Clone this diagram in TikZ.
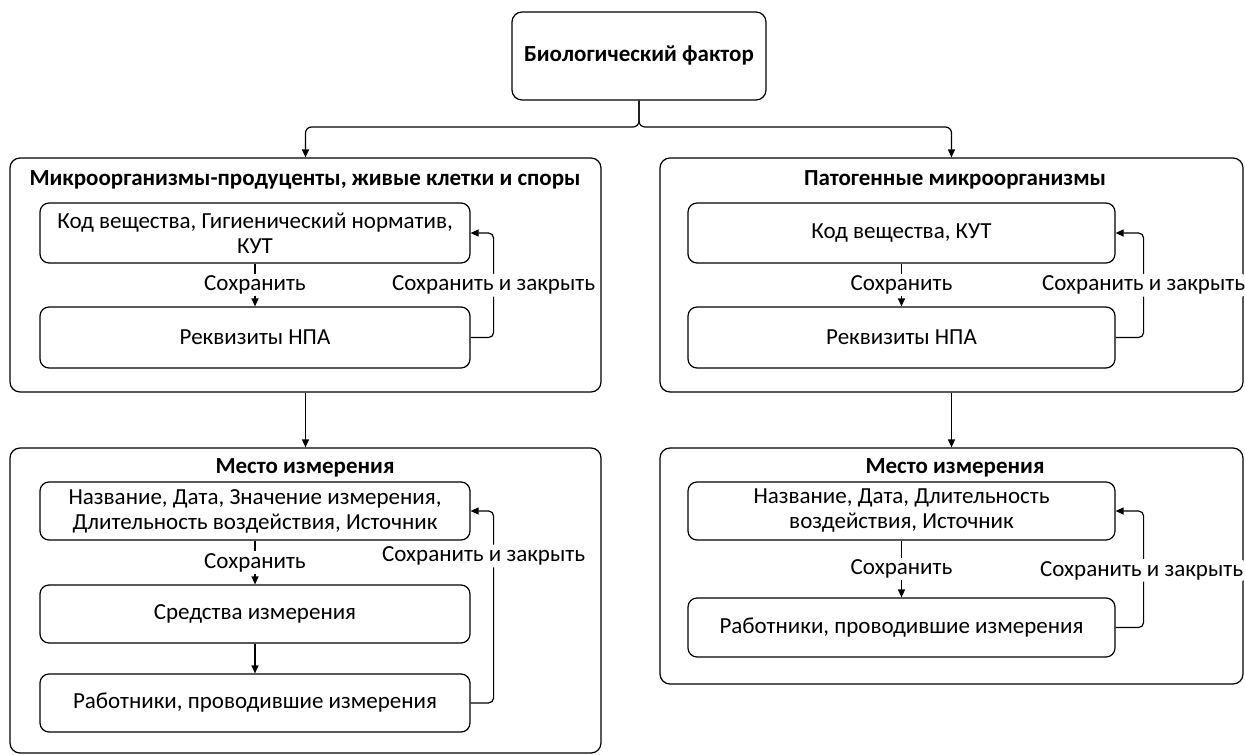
\documentclass[tikz,border=0pt]{standalone}
\usepackage{fontspec}
\setmainfont{Carlito}
\usetikzlibrary{arrows.meta}
\begin{document}
\begin{tikzpicture}[x=1pt,y=-1pt,
  every node/.style={font=\fontsize{23}{25}\selectfont},
  container/.style={draw, line width=1.2pt, rounded corners=10pt, inner sep=0pt},
  inbox/.style={draw, line width=1.2pt, rounded corners=9pt, align=center, inner sep=0pt, minimum width=430pt},
  ttl/.style={font=\fontsize{23}{25}\selectfont\bfseries},
  arr/.style={line width=1.2pt, -{Triangle[length=8pt,width=7pt]}},
  lbl/.style={fill=white, inner sep=2pt}
]
\useasboundingbox (0,0) rectangle (1245,755);

% top
\node[draw, line width=1.2pt, rounded corners=10pt, minimum width=254pt, minimum height=88pt, inner sep=0pt, font=\fontsize{23}{25}\selectfont\bfseries] (top) at (639,56) {Биологический фактор};

% containers
\node[container, minimum width=591pt, minimum height=234pt] (l1) at (305.5,275) {};
\node[container, minimum width=583pt, minimum height=234pt] (r1) at (951.5,275) {};
\node[container, minimum width=591pt, minimum height=305pt] (l2) at (305.5,600.5) {};
\node[container, minimum width=583pt, minimum height=236pt] (r2) at (951.5,566) {};

% titles
\node[ttl] (l1t) at (305,180) {Микроорганизмы-продуценты, живые клетки и споры};
\node[ttl] (r1t) at (955,180) {Патогенные микроорганизмы};
\node[ttl] (l2t) at (305,468) {Место измерения};
\node[ttl] (r2t) at (955,468) {Место измерения};

% left 1
\node[inbox, minimum height=60pt] (la1) at (255,233) {Код вещества, Гигиенический норматив,\\КУТ};
\node[inbox, minimum height=61pt] (la2) at (255,337.5) {Реквизиты НПА};
\draw[arr] (la1) -- node[lbl]{Сохранить} (la2);
\draw[arr, rounded corners=5pt] (la2.east) -- ++(23,0) |- node[lbl, pos=0.25]{Сохранить и закрыть} (la1.east);

% right 1
\node[inbox, minimum width=427pt, minimum height=60pt] (ra1) at (901.5,233) {Код вещества, КУТ};
\node[inbox, minimum width=427pt, minimum height=61pt] (ra2) at (901.5,337.5) {Реквизиты НПА};
\draw[arr] (ra1) -- node[lbl]{Сохранить} (ra2);
\draw[arr, rounded corners=5pt] (ra2.east) -- ++(28,0) |- node[lbl, pos=0.25]{Сохранить и закрыть} (ra1.east);

% left 2
\node[inbox, minimum height=58pt] (lb1) at (255,511) {Название, Дата, Значение измерения,\\Длительность воздействия, Источник};
\node[inbox, minimum height=58pt] (lb2) at (255,614) {Средства измерения};
\node[inbox, minimum height=58pt] (lb3) at (255,703) {Работники, проводившие измерения};
\draw[arr] (lb1) -- node[lbl]{Сохранить} (lb2);
\draw[arr] (lb2) -- (lb3);
\draw[arr, rounded corners=5pt] (lb3.east) -- ++(23,0) |- node[lbl, pos=0.383, xshift=-10pt]{Сохранить и закрыть} (lb1.east);

% right 2
\node[inbox, minimum width=427pt, minimum height=58pt] (rb1) at (901.5,511) {Название, Дата, Длительность\\воздействия, Источник};
\node[inbox, minimum width=427pt, minimum height=59pt] (rb2) at (901.5,627.5) {Работники, проводившие измерения};
\draw[arr] (rb1) -- node[lbl]{Сохранить} (rb2);
\draw[arr, rounded corners=5pt] (rb2.east) -- ++(28,0) |- node[lbl, pos=0.245, xshift=-2pt]{Сохранить и закрыть} (rb1.east);

% top connections
\coordinate (split) at (639,127);
\draw[arr, rounded corners=6pt] (top.south) -- (split) -| (l1.north);
\draw[arr, rounded corners=6pt] (top.south) -- (split) -| (r1.north);
\draw[arr] (l1.south) -- (l2.north);
\draw[arr] (r1.south) -- (r2.north);
\end{tikzpicture}
\end{document}
